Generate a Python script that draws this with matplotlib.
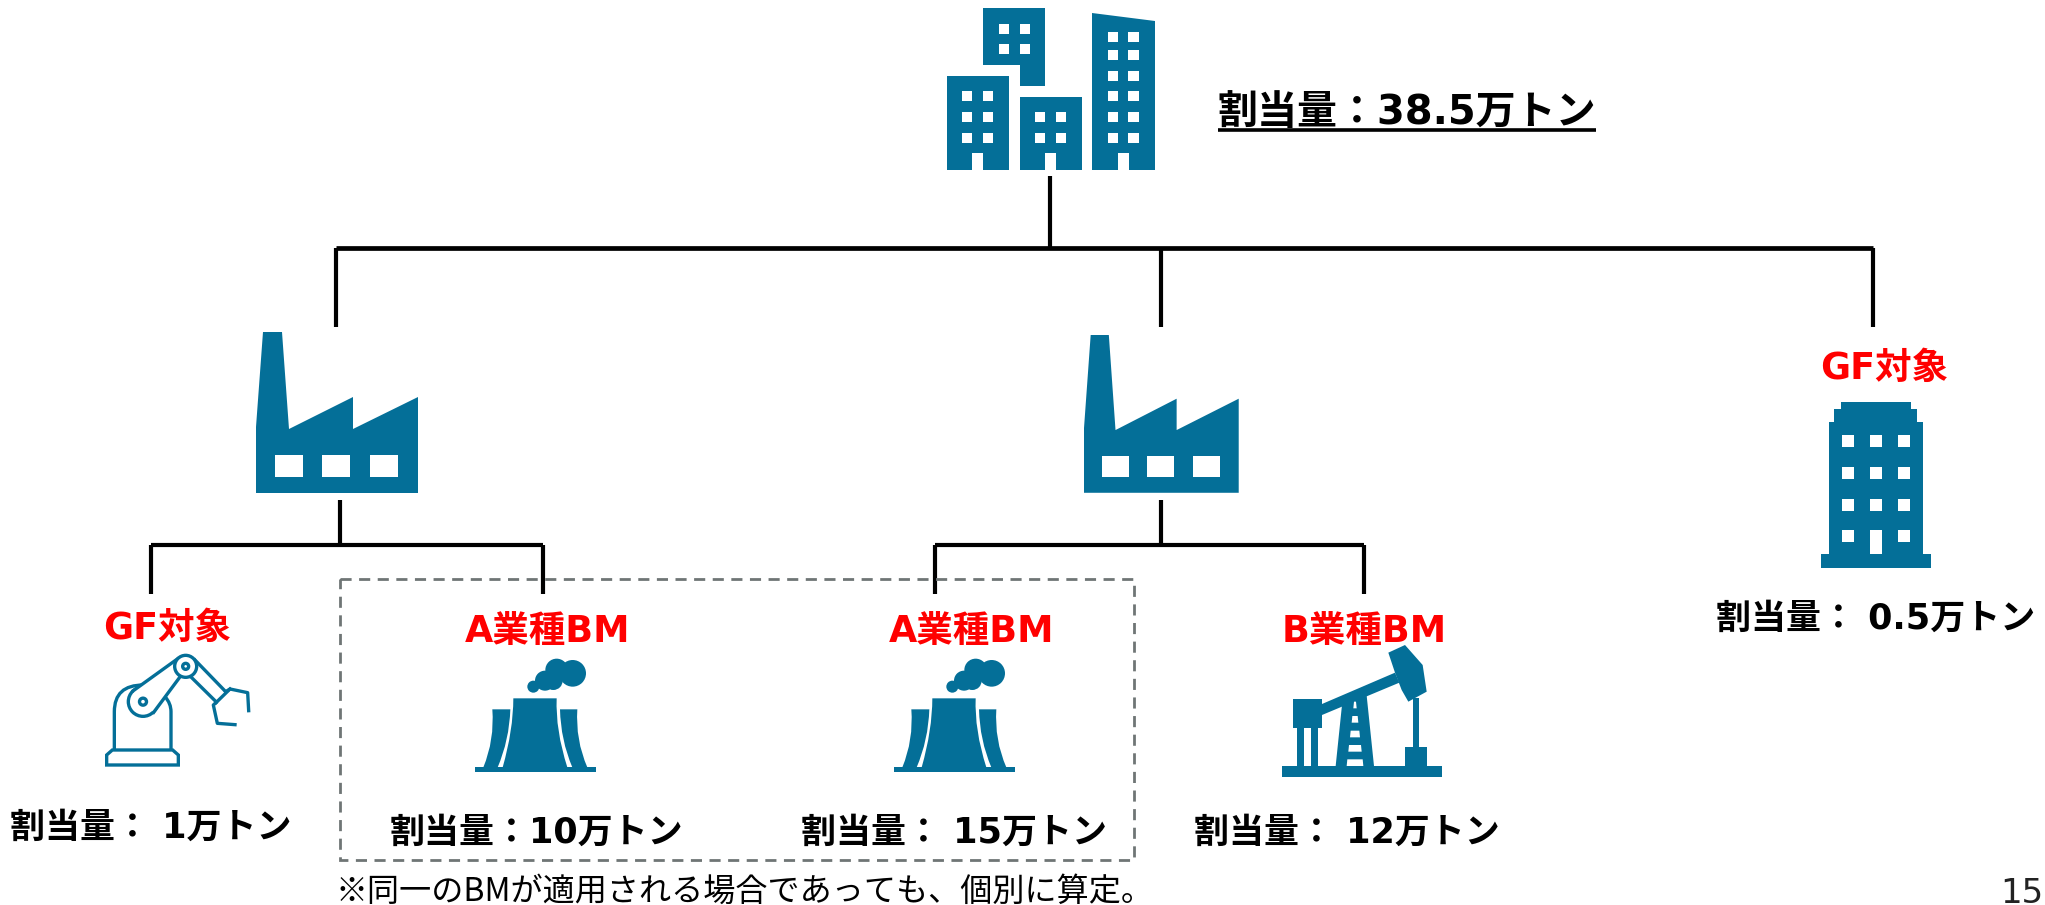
import matplotlib
matplotlib.use('Agg')
import matplotlib.pyplot as plt
from matplotlib.patches import Polygon, Rectangle, Circle, PathPatch
from matplotlib.path import Path

# Labels and amounts in the tree
title_label = '割当量：38.5万トン'
red_labels = ['GF対象', 'GF対象', 'A業種BM', 'A業種BM', 'B業種BM']
red_x = [1884, 167, 548, 972, 1364]
red_y = [368, 628, 631, 631, 631]
amount_labels = ['割当量： 0.5万トン', '割当量： 1万トン', '割当量：10万トン', '割当量： 15万トン', '割当量： 12万トン']
amount_x = [1876, 151, 536, 954, 1347]
amount_y = [619, 828, 833, 833, 833]
note_label = '※同一のBMが適用される場合であっても、個別に算定。'
page_label = '15'

BLUE = '#046f98'
BOLD = ['DejaVu Sans', 'Noto Sans CJK JP']

fig = plt.figure(figsize=(20.45, 9.05), dpi=100)
ax = fig.add_axes([0, 0, 1, 1])
ax.set_xlim(0, 2045)
ax.set_ylim(905, 0)
ax.axis('off')


def poly(pts, color=BLUE, z=2):
    ax.add_patch(Polygon(pts, closed=True, fc=color, ec='none', zorder=z))


def rect(x0, y0, x1, y1, color=BLUE, z=2):
    ax.add_patch(Rectangle((x0, y0), x1 - x0, y1 - y0, fc=color, ec='none', zorder=z))


def line(xs, ys, lw=3.0, color='black'):
    ax.plot(xs, ys, color=color, lw=lw, solid_capstyle='butt', zorder=1)


def block(x0, y0, x1, y1, wx, wy, w, h, door=False):
    # one office block with windows and a doorway
    rect(x0, y0, x1, y1)
    for a in wx:
        for b in wy:
            rect(a, b, a + w, b + h, 'white', 3)
    if door:
        mid = (x0 + x1) / 2
        rect(mid - 5.5, y1 - 17, mid + 5.5, y1, 'white', 3)


def factory(ox, oy, sx, sy):
    def P(x, y):
        return (ox + x * sx, oy + y * sy)
    poly([P(0, 161), P(0, 95), P(7, 0), P(26, 0), P(33, 97), P(97, 65), P(97, 97),
          P(162, 65), P(162, 161)])
    for a in (19, 66, 114):
        xa, ya = P(a, 123)
        xb, yb = P(a + 28, 145)
        rect(xa, ya, xb, yb, 'white', 3)


def tower(ox):
    def P(x, y):
        return (ox + x / 3, 650 + y / 3)
    rect(*P(75, 350), *P(438, 366))
    curves = [
        [(190, 145), (320, 145), (316, 240), (352, 352), (158, 352), (190, 240)],
        [(127, 178), (181, 178), (178, 270), (143, 352), (100, 352), (134, 270)],
        [(330, 178), (382, 178), (376, 270), (412, 352), (367, 352), (332, 270)],
    ]
    for c in curves:
        verts = [P(*c[0]), P(*c[1]), P(*c[2]), P(*c[3]), P(*c[4]), P(*c[5]), P(*c[0]), P(*c[0])]
        codes = [Path.MOVETO, Path.LINETO, Path.CURVE3, Path.CURVE3, Path.LINETO,
                 Path.CURVE3, Path.CURVE3, Path.CLOSEPOLY]
        ax.add_patch(PathPatch(Path(verts, codes), fc=BLUE, ec='none', zorder=2))
    for x, y, r in [(250, 110, 18), (285, 92, 30), (320, 60, 34), (368, 70, 40), (310, 92, 28)]:
        ax.add_patch(Circle(P(x, y), r / 3, fc=BLUE, ec='none', zorder=2))


# Tree lines
line([336, 1873], [248, 248], 3.4)
line([1050, 1050], [176, 248])
for x in (336, 1161, 1873):
    line([x, x], [248, 327])
line([340, 340], [500, 545])
line([1161, 1161], [500, 545])
line([151, 543], [545, 545])
line([935, 1364], [545, 545])
for x in (151, 543, 935, 1364):
    line([x, x], [545, 594])

# Dashed box round the shared BM
ax.add_patch(Rectangle((340, 579), 794, 281, fc='none', ec='#6f7575', lw=2.0,
                       ls=(0, (4, 2.7)), zorder=1))

# Head office group
block(947, 76, 1009, 170, [962, 983], [91, 112, 133], 10.5, 10.5, door=True)
poly([(983, 8), (1045, 8), (1045, 86), (1020, 86), (1020, 65), (983, 65)])
for a in (999, 1020):
    for b in (24, 44):
        rect(a, b, a + 10.5, b + 10.5, 'white', 3)
block(1020, 97, 1082, 170, [1035, 1056], [112, 133], 10.5, 10.5, door=True)
poly([(1092, 13), (1155, 21), (1155, 170), (1092, 170)])
for a in (1108, 1128.5):
    for b in (32, 50, 71, 91, 112, 133):
        rect(a, b, a + 10.5, b + 10.5, 'white', 3)
rect(1118, 153, 1129, 170, 'white', 3)

# Factories
factory(256, 332, 1.0, 1.0)
factory(1084, 335, 0.955, 0.98)

# Right hand building
rect(1821, 554, 1931, 568)
rect(1829, 422, 1923, 554)
rect(1834, 409, 1917, 422)
rect(1841, 402, 1911, 409)
for a in (1842, 1870, 1898):
    for b in (435, 467, 499, 530):
        if not (a == 1870 and b == 530):
            rect(a, b, a + 12, b + 12, 'white', 3)
rect(1870, 530, 1882, 554, 'white', 3)

# Cooling towers
tower(450)
tower(869)

# Pump jack
def pump(x, y):
    return (1270 + x / 3, 630 + y / 3)

rect(*pump(36, 408), *pump(515, 442))
rect(*pump(70, 208), *pump(156, 294))
rect(*pump(80, 294), *pump(102, 408))
rect(*pump(123, 294), *pump(145, 408))
poly([pump(156, 222), pump(375, 128), pump(388, 158), pump(156, 255)])
poly([pump(355, 68), pump(405, 45), pump(458, 105), pump(470, 185), pump(415, 215), pump(395, 180), pump(375, 128)])
rect(*pump(428, 205), *pump(448, 350))
rect(*pump(406, 350), *pump(471, 408))
poly([pump(216, 225), pump(290, 197), pump(312, 408), pump(197, 408)])
for y0, y1, a, b in [(215, 235, 250, 260), (258, 278, 245, 265), (302, 322, 240, 270),
                     (345, 365, 235, 275), (388, 408, 230, 280)]:
    poly([pump(a + 2, y0), pump(b - 2, y0), pump(b, y1), pump(a, y1)], 'white', 3)

# Robot arm, outline only
def robot(x, y):
    return (60 + x / 3, 640 + y / 3)

RLW = 2.4
verts = [robot(163, 330), robot(163, 215), robot(163, 135), robot(250, 135)]
ax.add_patch(PathPatch(Path(verts, [Path.MOVETO, Path.LINETO, Path.CURVE3, Path.CURVE3]),
                       fc='none', ec=BLUE, lw=RLW, zorder=2))
verts = [robot(333, 330), robot(333, 215), robot(333, 190), robot(315, 170)]
ax.add_patch(PathPatch(Path(verts, [Path.MOVETO, Path.LINETO, Path.CURVE3, Path.CURVE3]),
                       fc='none', ec=BLUE, lw=RLW, zorder=2))
# tapered arm: big end circle, then mask and two straight sides
ax.add_patch(Circle(robot(249, 185), 44 / 3, fc='white', ec=BLUE, lw=RLW, zorder=2.1))
poly([robot(220, 152), robot(352, 57), robot(362, 108), robot(281, 217)], 'white', 2.2)
for pts in ([(220, 152), (352, 57)], [(281, 217), (362, 108)]):
    xs, ys = zip(*[robot(*p) for p in pts])
    ax.plot(xs, ys, color=BLUE, lw=RLW, zorder=2.3)
ax.add_patch(Polygon([robot(140, 375), robot(355, 375), robot(355, 345), robot(338, 330),
                      robot(157, 330), robot(140, 345)], closed=True, fc='none', ec=BLUE,
                     lw=RLW, zorder=2))
ax.add_patch(Circle(robot(377, 79), 11, fc='white', ec=BLUE, lw=RLW, zorder=3))
ax.add_patch(Circle(robot(377, 79), 3, fc='white', ec=BLUE, lw=RLW, zorder=3))
ax.add_patch(Circle(robot(249, 185), 3.5, fc='white', ec=BLUE, lw=RLW, zorder=3))
for pts in ([(405, 60), (497, 155)], [(390, 108), (468, 185)], [(468, 188), (510, 147)],
            [(497, 155), (510, 147), (563, 158), (566, 212)],
            [(468, 188), (460, 195), (472, 250), (525, 254)]):
    xs, ys = zip(*[robot(*p) for p in pts])
    ax.plot(xs, ys, color=BLUE, lw=RLW, zorder=2)

# Texts
ax.text(1217, 113, title_label, family=BOLD, weight='bold', fontsize=28.8, color='black',
        ha='left', va='center')
line([1218, 1596], [130, 130], 2.6)
for t, x, y in zip(red_labels, red_x, red_y):
    ax.text(x, y, t, family=BOLD, weight='bold', fontsize=26.3, color='#ff0000', ha='center', va='center')
for t, x, y in zip(amount_labels, amount_x, amount_y):
    ax.text(x, y, t, family=BOLD, weight='bold', fontsize=25.2, color='black', ha='center', va='center')
ax.text(336, 892, note_label, family=['Noto Sans CJK JP', 'DejaVu Sans'], fontsize=23.1, color='black',
        ha='left', va='center')
ax.text(2000, 903, page_label, family='DejaVu Sans', fontsize=24.5, color='#222222', ha='left', va='baseline')

fig.savefig('out.png', dpi=100)
